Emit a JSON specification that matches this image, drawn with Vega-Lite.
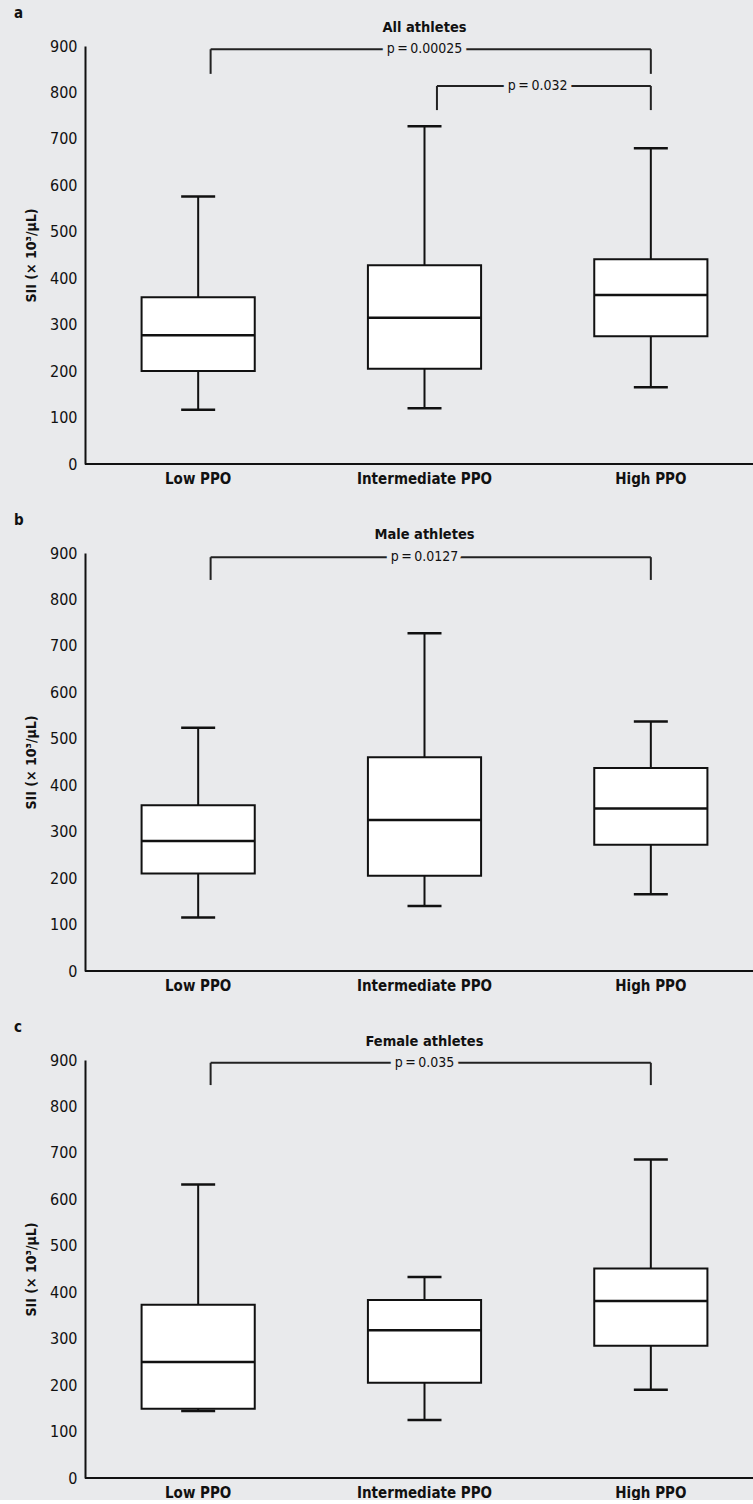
{
  "$schema": "https://vega.github.io/schema/vega-lite/v6.json",
  "background": "#e9eaec",
  "padding": {"left": 14, "top": 6, "right": 0, "bottom": 0},
  "spacing": 27,
  "datasets": {
    "boxes": [
      {"panel": "a", "group": "Low PPO", "min": 117, "q1": 200, "median": 277, "q3": 359, "max": 576},
      {"panel": "a", "group": "Intermediate PPO", "min": 120, "q1": 205, "median": 315, "q3": 428, "max": 727},
      {"panel": "a", "group": "High PPO", "min": 165, "q1": 275, "median": 364, "q3": 441, "max": 680},
      {"panel": "b", "group": "Low PPO", "min": 115, "q1": 210, "median": 280, "q3": 357, "max": 524},
      {"panel": "b", "group": "Intermediate PPO", "min": 140, "q1": 205, "median": 325, "q3": 460, "max": 727},
      {"panel": "b", "group": "High PPO", "min": 165, "q1": 272, "median": 350, "q3": 437, "max": 537},
      {"panel": "c", "group": "Low PPO", "min": 144, "q1": 149, "median": 250, "q3": 373, "max": 632},
      {"panel": "c", "group": "Intermediate PPO", "min": 125, "q1": 205, "median": 318, "q3": 383, "max": 433},
      {"panel": "c", "group": "High PPO", "min": 190, "q1": 285, "median": 381, "q3": 451, "max": 686}
    ],
    "brackets": [
      {"panel": "a", "kind": "wide", "from": "Low PPO", "to": "High PPO", "mid": "Intermediate PPO", "top": 893, "bottom": 840, "p": "p\u2009=\u20090.00025"},
      {"panel": "a", "kind": "narrow", "from": "Intermediate PPO", "to": "High PPO", "mid": "Intermediate PPO", "top": 814, "bottom": 762, "p": "p\u2009=\u20090.032"},
      {"panel": "b", "kind": "wide", "from": "Low PPO", "to": "High PPO", "mid": "Intermediate PPO", "top": 891, "bottom": 842, "p": "p\u2009=\u20090.0127"},
      {"panel": "c", "kind": "wide", "from": "Low PPO", "to": "High PPO", "mid": "Intermediate PPO", "top": 894, "bottom": 846, "p": "p\u2009=\u20090.035"}
    ],
    "titles": [
      {"panel": "a", "title": "All athletes", "group": "Intermediate PPO"},
      {"panel": "b", "title": "Male athletes", "group": "Intermediate PPO"},
      {"panel": "c", "title": "Female athletes", "group": "Intermediate PPO"}
    ],
    "baseline": [{"value": 0}]
  },
  "config": {
    "view": {"stroke": null},
    "font": "DejaVu Sans Condensed",
    "axis": {
      "domainColor": "#111111",
      "domainWidth": 2,
      "ticks": false,
      "grid": false,
      "labelColor": "#111111",
      "titleColor": "#111111",
      "labelFont": "DejaVu Sans Condensed",
      "titleFont": "DejaVu Sans Condensed"
    },
    "title": {"font": "DejaVu Sans Condensed", "fontSize": 15, "fontWeight": "bold", "color": "#111111", "anchor": "start", "frame": "group", "dx": -71, "offset": -1},
    "text": {"font": "DejaVu Sans Condensed", "color": "#111111"}
  },
  "vconcat": [
    {
      "width": 668, "height": 418,
      "title": "a",
      "layer": [
        {"data": {"name": "boxes"}, "transform": [{"filter": "datum.panel == 'a'"}],
         "mark": {"type": "rule", "color": "#111111", "strokeWidth": 2},
         "encoding": {
           "x": {"field": "group", "type": "nominal", "scale": {"domain": ["Low PPO", "Intermediate PPO", "High PPO"], "paddingInner": 0, "paddingOuter": 0, "range": [0, 679]}, "axis": {"title": null, "domain": false, "labelAngle": 0, "labelFontSize": 15, "labelFontWeight": "bold", "labelPadding": 7}},
           "y": {"field": "min", "type": "quantitative", "scale": {"domain": [0, 900], "nice": false}, "axis": {"title": "SII (× 10³/µL)", "values": [0, 100, 200, 300, 400, 500, 600, 700, 800, 900], "labelFontSize": 16, "labelPadding": 8, "titleFontSize": 14, "titleFontWeight": "bold", "titlePadding": 11}},
           "y2": {"field": "max"}
         }},
        {"data": {"name": "baseline"}, "mark": {"type": "rule", "color": "#111111", "strokeWidth": 2}, "encoding": {"y": {"field": "value", "type": "quantitative"}}},
        {"data": {"name": "boxes"}, "transform": [{"filter": "datum.panel == 'a'"}],
         "mark": {"type": "bar", "fill": "white", "stroke": "#111111", "strokeWidth": 2, "width": {"band": 0.5}},
         "encoding": {"x": {"field": "group", "type": "nominal"}, "y": {"field": "q1", "type": "quantitative"}, "y2": {"field": "q3"}}},
        {"data": {"name": "boxes"}, "transform": [{"filter": "datum.panel == 'a'"}],
         "mark": {"type": "tick", "color": "#111111", "size": 113, "thickness": 2.5, "opacity": 1},
         "encoding": {"x": {"field": "group", "type": "nominal"}, "y": {"field": "median", "type": "quantitative"}}},
        {"data": {"name": "boxes"}, "transform": [{"filter": "datum.panel == 'a'"}],
         "mark": {"type": "tick", "color": "#111111", "size": 34, "thickness": 2.5, "opacity": 1},
         "encoding": {"x": {"field": "group", "type": "nominal"}, "y": {"field": "min", "type": "quantitative"}}},
        {"data": {"name": "boxes"}, "transform": [{"filter": "datum.panel == 'a'"}],
         "mark": {"type": "tick", "color": "#111111", "size": 34, "thickness": 2.5, "opacity": 1},
         "encoding": {"x": {"field": "group", "type": "nominal"}, "y": {"field": "max", "type": "quantitative"}}},
        {"data": {"name": "brackets"}, "transform": [{"filter": "datum.panel == 'a'"}],
         "mark": {"type": "rule", "color": "#222222", "strokeWidth": 2},
         "encoding": {"x": {"field": "from", "type": "nominal", "bandPosition": 0.555}, "x2": {"field": "to"}, "y": {"field": "top", "type": "quantitative"}}},
        {"data": {"name": "brackets"}, "transform": [{"filter": "datum.panel == 'a'"}],
         "mark": {"type": "rule", "color": "#222222", "strokeWidth": 2},
         "encoding": {"x": {"field": "from", "type": "nominal", "bandPosition": 0.555}, "y": {"field": "top", "type": "quantitative"}, "y2": {"field": "bottom"}}},
        {"data": {"name": "brackets"}, "transform": [{"filter": "datum.panel == 'a'"}],
         "mark": {"type": "rule", "color": "#222222", "strokeWidth": 2},
         "encoding": {"x": {"field": "to", "type": "nominal"}, "y": {"field": "top", "type": "quantitative"}, "y2": {"field": "bottom"}}},
        {"data": {"name": "brackets"}, "transform": [{"filter": "datum.panel == 'a' && datum.kind == 'wide'"}],
         "mark": {"type": "text", "fontSize": 14, "baseline": "middle", "fill": "#e9eaec", "stroke": "#e9eaec", "strokeWidth": 10},
         "encoding": {"x": {"field": "mid", "type": "nominal"}, "y": {"field": "top", "type": "quantitative"}, "text": {"field": "p"}}},
        {"data": {"name": "brackets"}, "transform": [{"filter": "datum.panel == 'a' && datum.kind == 'wide'"}],
         "mark": {"type": "text", "fontSize": 14, "baseline": "middle", "color": "#111111"},
         "encoding": {"x": {"field": "mid", "type": "nominal"}, "y": {"field": "top", "type": "quantitative"}, "text": {"field": "p"}}},
        {"data": {"name": "brackets"}, "transform": [{"filter": "datum.panel == 'a' && datum.kind == 'narrow'"}],
         "mark": {"type": "text", "fontSize": 14, "baseline": "middle", "fill": "#e9eaec", "stroke": "#e9eaec", "strokeWidth": 10},
         "encoding": {"x": {"field": "mid", "type": "nominal", "bandPosition": 1}, "y": {"field": "top", "type": "quantitative"}, "text": {"field": "p"}}},
        {"data": {"name": "brackets"}, "transform": [{"filter": "datum.panel == 'a' && datum.kind == 'narrow'"}],
         "mark": {"type": "text", "fontSize": 14, "baseline": "middle", "color": "#111111"},
         "encoding": {"x": {"field": "mid", "type": "nominal", "bandPosition": 1}, "y": {"field": "top", "type": "quantitative"}, "text": {"field": "p"}}},
        {"data": {"name": "titles"}, "transform": [{"filter": "datum.panel == 'a'"}],
         "mark": {"type": "text", "fontSize": 14.5, "fontWeight": "bold", "baseline": "middle", "color": "#111111"},
         "encoding": {"x": {"field": "group", "type": "nominal"}, "y": {"datum": 938, "type": "quantitative"}, "text": {"field": "title"}}}
      ]
    },
    {
      "width": 668, "height": 418,
      "title": "b",
      "layer": [
        {"data": {"name": "boxes"}, "transform": [{"filter": "datum.panel == 'b'"}],
         "mark": {"type": "rule", "color": "#111111", "strokeWidth": 2},
         "encoding": {
           "x": {"field": "group", "type": "nominal", "scale": {"domain": ["Low PPO", "Intermediate PPO", "High PPO"], "paddingInner": 0, "paddingOuter": 0, "range": [0, 679]}, "axis": {"title": null, "domain": false, "labelAngle": 0, "labelFontSize": 15, "labelFontWeight": "bold", "labelPadding": 7}},
           "y": {"field": "min", "type": "quantitative", "scale": {"domain": [0, 900], "nice": false}, "axis": {"title": "SII (× 10³/µL)", "values": [0, 100, 200, 300, 400, 500, 600, 700, 800, 900], "labelFontSize": 16, "labelPadding": 8, "titleFontSize": 14, "titleFontWeight": "bold", "titlePadding": 11}},
           "y2": {"field": "max"}
         }},
        {"data": {"name": "baseline"}, "mark": {"type": "rule", "color": "#111111", "strokeWidth": 2}, "encoding": {"y": {"field": "value", "type": "quantitative"}}},
        {"data": {"name": "boxes"}, "transform": [{"filter": "datum.panel == 'b'"}],
         "mark": {"type": "bar", "fill": "white", "stroke": "#111111", "strokeWidth": 2, "width": {"band": 0.5}},
         "encoding": {"x": {"field": "group", "type": "nominal"}, "y": {"field": "q1", "type": "quantitative"}, "y2": {"field": "q3"}}},
        {"data": {"name": "boxes"}, "transform": [{"filter": "datum.panel == 'b'"}],
         "mark": {"type": "tick", "color": "#111111", "size": 113, "thickness": 2.5, "opacity": 1},
         "encoding": {"x": {"field": "group", "type": "nominal"}, "y": {"field": "median", "type": "quantitative"}}},
        {"data": {"name": "boxes"}, "transform": [{"filter": "datum.panel == 'b'"}],
         "mark": {"type": "tick", "color": "#111111", "size": 34, "thickness": 2.5, "opacity": 1},
         "encoding": {"x": {"field": "group", "type": "nominal"}, "y": {"field": "min", "type": "quantitative"}}},
        {"data": {"name": "boxes"}, "transform": [{"filter": "datum.panel == 'b'"}],
         "mark": {"type": "tick", "color": "#111111", "size": 34, "thickness": 2.5, "opacity": 1},
         "encoding": {"x": {"field": "group", "type": "nominal"}, "y": {"field": "max", "type": "quantitative"}}},
        {"data": {"name": "brackets"}, "transform": [{"filter": "datum.panel == 'b'"}],
         "mark": {"type": "rule", "color": "#222222", "strokeWidth": 2},
         "encoding": {"x": {"field": "from", "type": "nominal", "bandPosition": 0.555}, "x2": {"field": "to"}, "y": {"field": "top", "type": "quantitative"}}},
        {"data": {"name": "brackets"}, "transform": [{"filter": "datum.panel == 'b'"}],
         "mark": {"type": "rule", "color": "#222222", "strokeWidth": 2},
         "encoding": {"x": {"field": "from", "type": "nominal", "bandPosition": 0.555}, "y": {"field": "top", "type": "quantitative"}, "y2": {"field": "bottom"}}},
        {"data": {"name": "brackets"}, "transform": [{"filter": "datum.panel == 'b'"}],
         "mark": {"type": "rule", "color": "#222222", "strokeWidth": 2},
         "encoding": {"x": {"field": "to", "type": "nominal"}, "y": {"field": "top", "type": "quantitative"}, "y2": {"field": "bottom"}}},
        {"data": {"name": "brackets"}, "transform": [{"filter": "datum.panel == 'b' && datum.kind == 'wide'"}],
         "mark": {"type": "text", "fontSize": 14, "baseline": "middle", "fill": "#e9eaec", "stroke": "#e9eaec", "strokeWidth": 10},
         "encoding": {"x": {"field": "mid", "type": "nominal"}, "y": {"field": "top", "type": "quantitative"}, "text": {"field": "p"}}},
        {"data": {"name": "brackets"}, "transform": [{"filter": "datum.panel == 'b' && datum.kind == 'wide'"}],
         "mark": {"type": "text", "fontSize": 14, "baseline": "middle", "color": "#111111"},
         "encoding": {"x": {"field": "mid", "type": "nominal"}, "y": {"field": "top", "type": "quantitative"}, "text": {"field": "p"}}},
        {"data": {"name": "titles"}, "transform": [{"filter": "datum.panel == 'b'"}],
         "mark": {"type": "text", "fontSize": 14.5, "fontWeight": "bold", "baseline": "middle", "color": "#111111"},
         "encoding": {"x": {"field": "group", "type": "nominal"}, "y": {"datum": 938, "type": "quantitative"}, "text": {"field": "title"}}}
      ]
    },
    {
      "width": 668, "height": 418,
      "title": "c",
      "layer": [
        {"data": {"name": "boxes"}, "transform": [{"filter": "datum.panel == 'c'"}],
         "mark": {"type": "rule", "color": "#111111", "strokeWidth": 2},
         "encoding": {
           "x": {"field": "group", "type": "nominal", "scale": {"domain": ["Low PPO", "Intermediate PPO", "High PPO"], "paddingInner": 0, "paddingOuter": 0, "range": [0, 679]}, "axis": {"title": null, "domain": false, "labelAngle": 0, "labelFontSize": 15, "labelFontWeight": "bold", "labelPadding": 7}},
           "y": {"field": "min", "type": "quantitative", "scale": {"domain": [0, 900], "nice": false}, "axis": {"title": "SII (× 10³/µL)", "values": [0, 100, 200, 300, 400, 500, 600, 700, 800, 900], "labelFontSize": 16, "labelPadding": 8, "titleFontSize": 14, "titleFontWeight": "bold", "titlePadding": 11}},
           "y2": {"field": "max"}
         }},
        {"data": {"name": "baseline"}, "mark": {"type": "rule", "color": "#111111", "strokeWidth": 2}, "encoding": {"y": {"field": "value", "type": "quantitative"}}},
        {"data": {"name": "boxes"}, "transform": [{"filter": "datum.panel == 'c'"}],
         "mark": {"type": "bar", "fill": "white", "stroke": "#111111", "strokeWidth": 2, "width": {"band": 0.5}},
         "encoding": {"x": {"field": "group", "type": "nominal"}, "y": {"field": "q1", "type": "quantitative"}, "y2": {"field": "q3"}}},
        {"data": {"name": "boxes"}, "transform": [{"filter": "datum.panel == 'c'"}],
         "mark": {"type": "tick", "color": "#111111", "size": 113, "thickness": 2.5, "opacity": 1},
         "encoding": {"x": {"field": "group", "type": "nominal"}, "y": {"field": "median", "type": "quantitative"}}},
        {"data": {"name": "boxes"}, "transform": [{"filter": "datum.panel == 'c'"}],
         "mark": {"type": "tick", "color": "#111111", "size": 34, "thickness": 2.5, "opacity": 1},
         "encoding": {"x": {"field": "group", "type": "nominal"}, "y": {"field": "min", "type": "quantitative"}}},
        {"data": {"name": "boxes"}, "transform": [{"filter": "datum.panel == 'c'"}],
         "mark": {"type": "tick", "color": "#111111", "size": 34, "thickness": 2.5, "opacity": 1},
         "encoding": {"x": {"field": "group", "type": "nominal"}, "y": {"field": "max", "type": "quantitative"}}},
        {"data": {"name": "brackets"}, "transform": [{"filter": "datum.panel == 'c'"}],
         "mark": {"type": "rule", "color": "#222222", "strokeWidth": 2},
         "encoding": {"x": {"field": "from", "type": "nominal", "bandPosition": 0.555}, "x2": {"field": "to"}, "y": {"field": "top", "type": "quantitative"}}},
        {"data": {"name": "brackets"}, "transform": [{"filter": "datum.panel == 'c'"}],
         "mark": {"type": "rule", "color": "#222222", "strokeWidth": 2},
         "encoding": {"x": {"field": "from", "type": "nominal", "bandPosition": 0.555}, "y": {"field": "top", "type": "quantitative"}, "y2": {"field": "bottom"}}},
        {"data": {"name": "brackets"}, "transform": [{"filter": "datum.panel == 'c'"}],
         "mark": {"type": "rule", "color": "#222222", "strokeWidth": 2},
         "encoding": {"x": {"field": "to", "type": "nominal"}, "y": {"field": "top", "type": "quantitative"}, "y2": {"field": "bottom"}}},
        {"data": {"name": "brackets"}, "transform": [{"filter": "datum.panel == 'c' && datum.kind == 'wide'"}],
         "mark": {"type": "text", "fontSize": 14, "baseline": "middle", "fill": "#e9eaec", "stroke": "#e9eaec", "strokeWidth": 10},
         "encoding": {"x": {"field": "mid", "type": "nominal"}, "y": {"field": "top", "type": "quantitative"}, "text": {"field": "p"}}},
        {"data": {"name": "brackets"}, "transform": [{"filter": "datum.panel == 'c' && datum.kind == 'wide'"}],
         "mark": {"type": "text", "fontSize": 14, "baseline": "middle", "color": "#111111"},
         "encoding": {"x": {"field": "mid", "type": "nominal"}, "y": {"field": "top", "type": "quantitative"}, "text": {"field": "p"}}},
        {"data": {"name": "titles"}, "transform": [{"filter": "datum.panel == 'c'"}],
         "mark": {"type": "text", "fontSize": 14.5, "fontWeight": "bold", "baseline": "middle", "color": "#111111"},
         "encoding": {"x": {"field": "group", "type": "nominal"}, "y": {"datum": 938, "type": "quantitative"}, "text": {"field": "title"}}}
      ]
    }
  ]
}
